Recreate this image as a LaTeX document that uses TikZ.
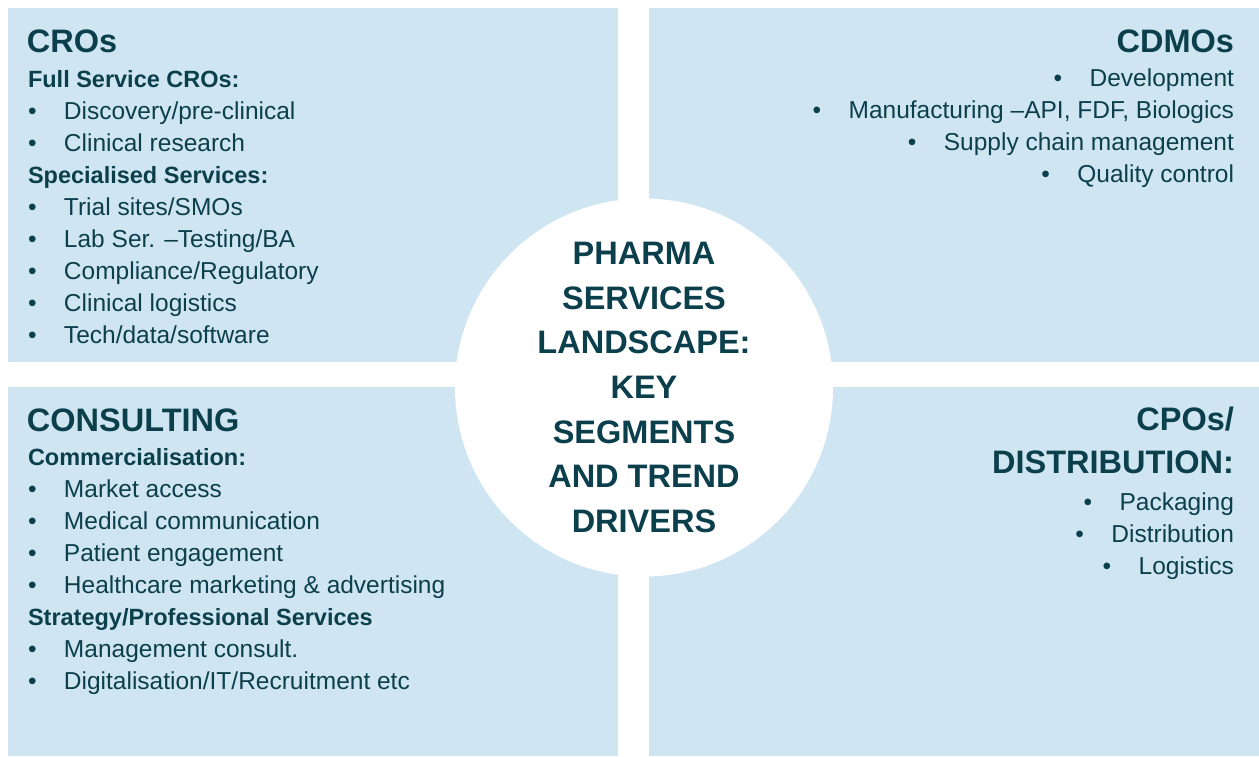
\documentclass[tikz,border=0pt]{standalone}
\usepackage{fontspec}
\setmainfont{Liberation Sans}
\definecolor{qfill}{RGB}{207,230,242}
\definecolor{ink}{RGB}{12,63,76}
\newcommand{\bul}{\makebox[36pt][l]{•}}
\begin{document}
\begin{tikzpicture}[x=1pt,y=-1pt,
  quad/.style={fill=qfill, draw=none},
  txt/.style={inner sep=0pt, outer sep=0pt, text=ink, font=\fontsize{24.5}{30}\selectfont},
  head/.style={txt, font=\fontsize{32.5}{40}\selectfont\bfseries},
  sub/.style={txt, font=\fontsize{23.5}{30}\selectfont\bfseries},
  L/.style={anchor=base west},
  R/.style={anchor=base east}]
\useasboundingbox (0,0) rectangle (1259,756);
\fill[white] (0,0) rectangle (1259,756);
% quadrants
\path[quad] (8,8) rectangle (618,362);
\path[quad] (649,8) rectangle (1259,362);
\path[quad] (8,387) rectangle (618,756);
\path[quad] (649,387) rectangle (1259,756);
% hub
\node[circle, fill=white, minimum size=378pt, inner sep=0pt] (hub) at (644,387.5) {};
\node[txt, align=center, font=\fontsize{32.5}{44.67}\selectfont\bfseries] (title) at (644,387.4)
  {PHARMA\\SERVICES\\LANDSCAPE:\\KEY\\SEGMENTS\\AND TREND\\DRIVERS};
% CROs
\node[head,L] (cro) at (27,52) {CROs};
\node[sub,L] (cro1) at (28,87) {Full Service CROs:};
\node[txt,L] (cro2) at (28,119) {\bul Discovery/pre-clinical};
\node[txt,L] (cro3) at (28,151) {\bul Clinical research};
\node[sub,L] (cro4) at (28,183) {Specialised Services:};
\node[txt,L] (cro5) at (28,215) {\bul Trial sites/SMOs};
\node[txt,L] (cro6) at (28,247) {\bul Lab Ser. –Testing/BA};
\node[txt,L] (cro7) at (28,279) {\bul Compliance/Regulatory};
\node[txt,L] (cro8) at (28,311) {\bul Clinical logistics};
\node[txt,L] (cro9) at (28,343) {\bul Tech/data/software};
% CDMOs
\node[head,R] (cdmo) at (1234,52) {CDMOs};
\node[txt,R] (cdmo1) at (1234,86.5) {\bul Development};
\node[txt,R] (cdmo2) at (1234,118.5) {\bul Manufacturing –API, FDF, Biologics};
\node[txt,R] (cdmo3) at (1234,150) {\bul Supply chain management};
\node[txt,R] (cdmo4) at (1234,182) {\bul Quality control};
% Consulting
\node[head,L] (con) at (27,431) {CONSULTING};
\node[sub,L] (con1) at (28,465) {Commercialisation:};
\node[txt,L] (con2) at (28,497) {\bul Market access};
\node[txt,L] (con3) at (28,529) {\bul Medical communication};
\node[txt,L] (con4) at (28,561) {\bul Patient engagement};
\node[txt,L] (con5) at (28,593) {\bul Healthcare marketing \& advertising};
\node[sub,L] (con6) at (28,625) {Strategy/Professional Services};
\node[txt,L] (con7) at (28,657) {\bul Management consult.};
\node[txt,L] (con8) at (28,689) {\bul Digitalisation/IT/Recruitment etc};
% CPOs
\node[head,R] (cpo) at (1234,430) {CPOs/};
\node[head,R] (cpo1) at (1234,473) {DISTRIBUTION:};
\node[txt,R] (cpo2) at (1234,510) {\bul Packaging};
\node[txt,R] (cpo3) at (1234,542) {\bul Distribution};
\node[txt,R] (cpo4) at (1234,574) {\bul Logistics};
\end{tikzpicture}
\end{document}
